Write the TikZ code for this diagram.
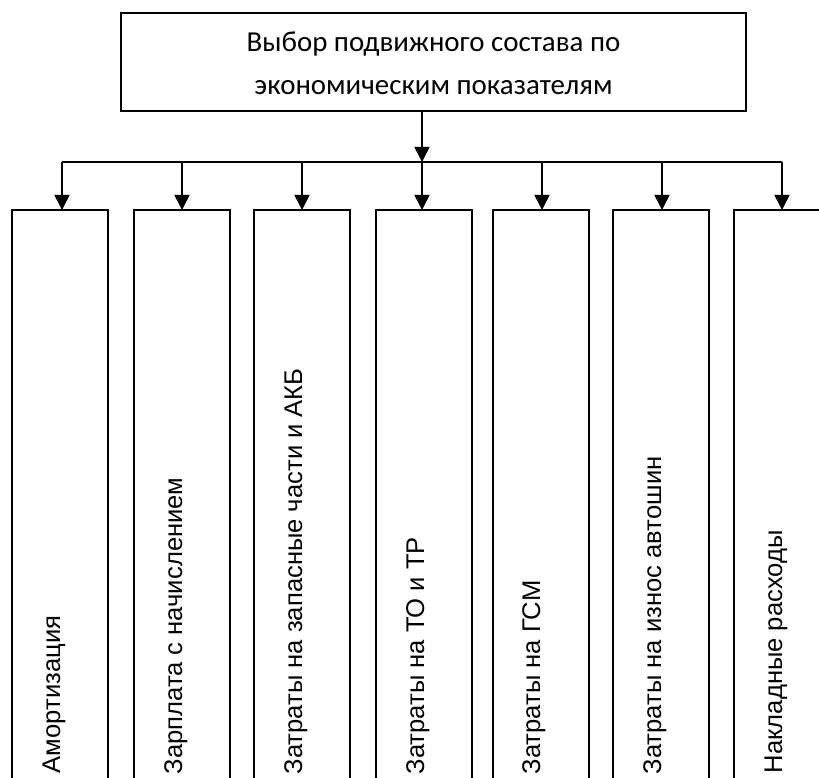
\documentclass[tikz,border=0pt]{standalone}
\usepackage{fontspec}
\setmainfont{Liberation Sans}
\newfontfamily\calibri{Carlito}
\usetikzlibrary{arrows.meta}
\begin{document}
\begin{tikzpicture}[x=1pt,y=-1pt,line width=1.5pt,
  colbox/.style={draw,line width=1.5pt,minimum width=96pt,minimum height=620pt,
    anchor=north west,inner sep=0pt,outer sep=0pt},
  toptext/.style={anchor=base,inner sep=0pt,font=\calibri\fontsize{28.9}{32}\selectfont},
  lab/.style={rotate=90,anchor=base west,inner sep=0pt,font=\fontsize{25.6}{30}\selectfont},
  arr/.style={-{Triangle[length=15pt,width=15pt]},line width=1.5pt}]
\useasboundingbox (0,0) rectangle (819,778);
\clip (0,0) rectangle (819,778);
% top box
\node[draw,line width=1.5pt,minimum width=625pt,minimum height=98pt,anchor=north west,
  inner sep=0pt,outer sep=0pt] (top) at (121,13) {};
\node[toptext] (tl1) at (433.5,52) {Выбор подвижного состава по};
\node[toptext] (tl2) at (433.5,95) {экономическим показателям};
% column boxes
\node[colbox] (b1) at (12,210) {};
\node[colbox] (b2) at (134,210) {};
\node[colbox] (b3) at (254,210) {};
\node[colbox] (b4) at (376,210) {};
\node[colbox] (b5) at (493,210) {};
\node[colbox] (b6) at (613,210) {};
\node[colbox] (b7) at (734,210) {};
% labels
\node[lab] (t1) at (60,774) {Амортизация};
\node[lab] (t2) at (182,775) {Зарплата с начислением};
\node[lab] (t3) at (302,775) {Затраты на запасные части и АКБ};
\node[lab] (t4) at (424,775) {Затраты на ТО и ТР};
\node[lab] (t5) at (540,775) {Затраты на ГСМ};
\node[lab] (t6) at (661,775) {Затраты на износ автошин};
\node[lab] (t7) at (782,774) {Накладные расходы};
% connectors
\coordinate (j) at (422,162);
\coordinate (a1) at (62,162);
\coordinate (a2) at (182,162);
\coordinate (a3) at (302,162);
\coordinate (a4) at (422,162);
\coordinate (a5) at (542,162);
\coordinate (a6) at (662,162);
\coordinate (a7) at (782,162);
\draw[arr] (top.south -| j) -- (j);
\draw (a1) -- (a7);
\foreach \i in {1,...,7}{
  \draw[arr] (a\i) -- (a\i |- b\i.north);
}
\end{tikzpicture}
\end{document}
